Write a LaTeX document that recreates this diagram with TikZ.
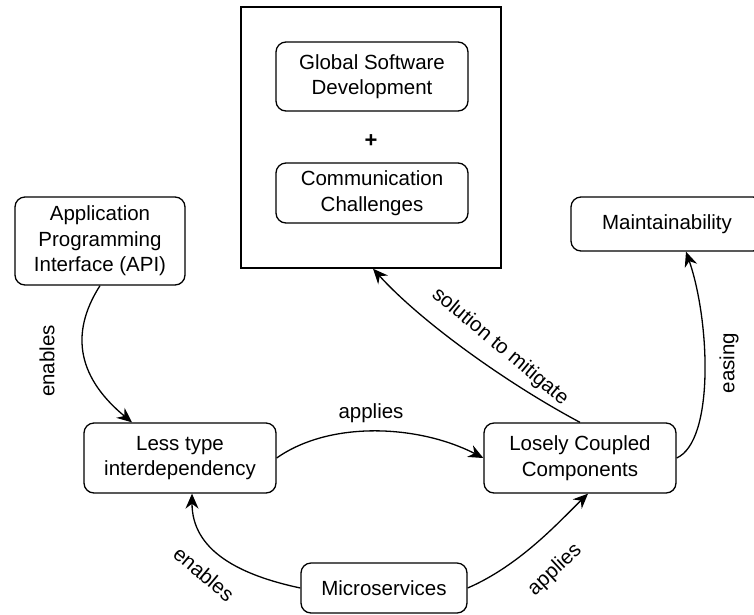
\documentclass[tikz,border=0pt]{standalone}
\usepackage{fontspec}
\setmainfont{Liberation Sans}
\usetikzlibrary{arrows.meta}

\begin{document}
\begin{tikzpicture}[x=1pt, y=-1pt,
  font=\fontsize{20.5}{25.5}\selectfont,
  box/.style={draw, line width=1.3pt, rounded corners=10pt, align=center,
              inner sep=0pt, minimum width=192pt},
  link/.style={draw, line width=1.3pt,
               -{Stealth[length=15pt, width=13pt, inset=5pt]}},
  lbl/.style={inner sep=1pt}
]
\useasboundingbox (0,0) rectangle (754,614);
\clip (0,0) rectangle (754,614);

% outer frame holding the two challenges
\node[draw, line width=1.4pt, minimum width=260pt, minimum height=261pt,
      inner sep=0pt] (frame) at (371,137.5) {};
\node[box, minimum height=69pt] (gsd) at (372,76.5) {Global Software\\Development};
\node[font=\fontsize{22}{24}\selectfont\bfseries] (plus) at (371,141) {+};
\node[box, minimum height=60pt] (cc) at (372,193) {Communication\\Challenges};

% concept boxes
\node[box, minimum width=170pt, minimum height=88pt] (api) at (100,241)
  {Application\\Programming\\Interface (API)};
\node[box, minimum height=54pt] (maint) at (667,224) {Maintainability};
\node[box, minimum height=70pt] (less) at (180,458) {Less type\\interdependency};
\node[box, minimum height=70pt] (lcc) at (580,458) {Losely Coupled\\Components};
\node[box, minimum width=166pt, minimum height=50pt] (micro) at (384,588) {Microservices};

% connectors
\draw[link] (api.south) .. controls +(-32,50) and +(-52,-43) .. ([xshift=-48pt]less.north);
\draw[link] (less.east) .. controls +(54,-38) and +(-64,-33) .. (lcc.west);
\draw[link] (micro.west) .. controls +(-61,-13) and +(0,57) .. ([xshift=12pt]less.south);
\draw[link] (micro.east) .. controls +(53,-23) and +(-28,27) .. ([xshift=8pt]lcc.south);
\draw[link] (lcc.north) .. controls +(-75,-40) and +(47,52) .. ([xshift=2pt]frame.south);
\draw[link] (lcc.east) .. controls +(38,-17) and +(24,69) .. ([xshift=19pt]maint.south);

% connector labels
\node[lbl, rotate=90] (l1) at (47,361) {enables};
\node[lbl] (l2) at (371,413) {applies};
\node[lbl, rotate=-40] (l3) at (204,574) {enables};
\node[lbl, rotate=43] (l4) at (555,570) {applies};
\node[lbl, rotate=-40] (l5) at (500,347) {solution to mitigate};
\node[lbl, rotate=90] (l6) at (729,363) {easing};
\end{tikzpicture}
\end{document}
